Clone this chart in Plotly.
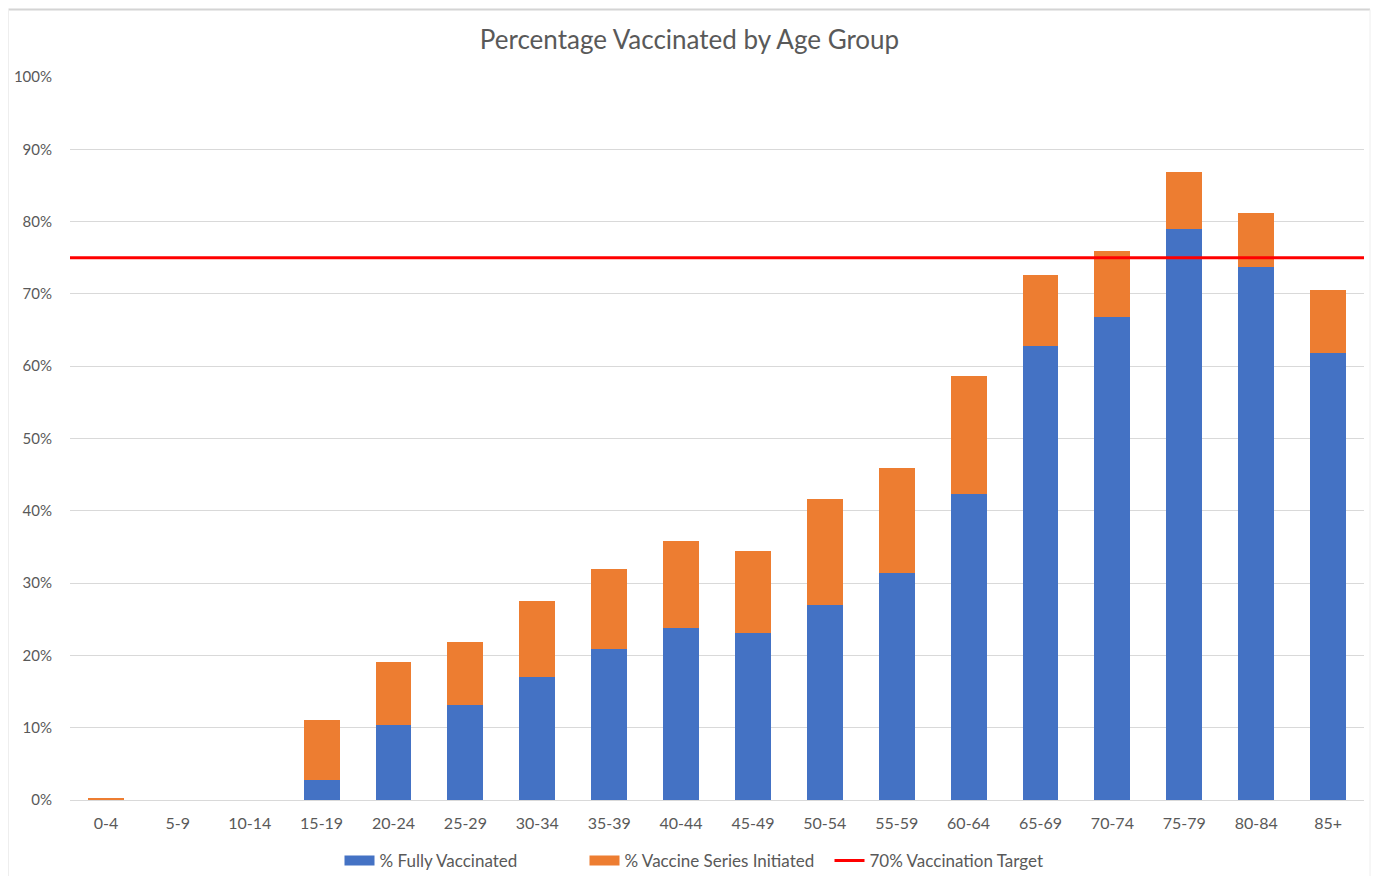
import plotly.graph_objects as go

age_groups = ["0-4", "5-9", "10-14", "15-19", "20-24", "25-29", "30-34", "35-39", "40-44",
              "45-49", "50-54", "55-59", "60-64", "65-69", "70-74", "75-79", "80-84", "85+"]
fully_vaccinated = [0.0, 0.0, 0.0, 2.8, 10.4, 13.1, 17.0, 20.9, 23.8,
                    23.1, 27.0, 31.4, 42.3, 62.8, 66.8, 79.0, 73.7, 61.8]
total_initiated = [0.3, 0.0, 0.0, 11.1, 19.1, 21.9, 27.5, 32.0, 35.8,
                   34.4, 41.6, 45.9, 58.6, 72.6, 75.9, 86.9, 81.2, 70.5]
series_initiated = [round(t - f, 2) for t, f in zip(total_initiated, fully_vaccinated)]
target_value = 75
y_ticks = [0, 10, 20, 30, 40, 50, 60, 70, 80, 90, 100]
y_tick_labels = [f"{v}%" for v in y_ticks]

FONT = "Lato, 'Open Sans', sans-serif"
GREY = "#595959"
BLUE = "#4472C4"
ORANGE = "#ED7D31"

W, H = 1363, 868
L, R, T, B = 62, 7, 69, 76
PW, PH = W - L - R, H - T - B

fig = go.Figure()
fig.add_trace(go.Bar(x=age_groups, y=fully_vaccinated, name="% Fully Vaccinated",
                     marker=dict(color=BLUE, line=dict(width=0)), showlegend=False,
                     legendgroup="full"))
fig.add_trace(go.Bar(x=age_groups, y=series_initiated, name="% Vaccine Series Initiated",
                     marker=dict(color=ORANGE, line=dict(width=0)), showlegend=False,
                     legendgroup="init"))
# legend swatches drawn as wide rectangles (like the original)
fig.add_trace(go.Scatter(x=[None], y=[None], xaxis="x2", mode="lines", name="% Fully Vaccinated",
                         line=dict(color=BLUE, width=10), legendgroup="full"))
fig.add_trace(go.Scatter(x=[None], y=[None], xaxis="x2", mode="lines",
                         name="% Vaccine Series Initiated",
                         line=dict(color=ORANGE, width=10), legendgroup="init"))
fig.add_trace(go.Scatter(x=[0, 1], y=[target_value, target_value], xaxis="x2", mode="lines",
                         name="70% Vaccination Target",
                         line=dict(color="#FF0000", width=3)))

fig.update_layout(
    width=W, height=H,
    barmode="stack", bargap=0.5,
    paper_bgcolor="white", plot_bgcolor="white",
    margin=dict(l=L, r=R, t=T, b=B, autoexpand=False),
    font=dict(family=FONT, color=GREY, size=15),
    title=dict(text="Percentage Vaccinated by Age Group", x=0.5, xanchor="center",
               y=1 - 32 / H, yanchor="middle",
               font=dict(family=FONT, size=26, color=GREY)),
    xaxis=dict(type="category", showgrid=False, showline=True, linecolor="#d9d9d9",
               linewidth=1, ticks="outside", ticklen=9, tickcolor="rgba(0,0,0,0)",
               tickfont=dict(size=16, color=GREY), automargin=False),
    xaxis2=dict(overlaying="x", range=[0, 1], visible=False, fixedrange=True),
    yaxis=dict(range=[0, 100], tickmode="array", tickvals=y_ticks, ticktext=y_tick_labels,
               showgrid=True, gridcolor="#d9d9d9", gridwidth=1, zeroline=False,
               showline=False, ticks="outside", ticklen=14, tickcolor="rgba(0,0,0,0)",
               tickfont=dict(size=15, color=GREY), automargin=False),
    legend=dict(orientation="h", x=0.5 - 10 / PW, xanchor="center", y=-61 / PH,
                yanchor="middle", font=dict(size=17, color=GREY), traceorder="normal",
                bgcolor="rgba(0,0,0,0)", itemwidth=30, entrywidth=200,
                entrywidthmode="pixels"),
)
top_y = 1 + (T - 1.5) / PH
bot_y = -(B + 20) / PH
left_x = -(L - 0.5) / PW
right_x = 1 + (R - 1) / PW
fig.add_shape(type="line", xref="paper", yref="paper", x0=left_x, x1=right_x, y0=top_y, y1=top_y,
              line=dict(color="#d4d4d4", width=2), layer="below")
fig.add_shape(type="line", xref="paper", yref="paper", x0=left_x, x1=left_x, y0=bot_y, y1=top_y,
              line=dict(color="#eeeeee", width=1), layer="below")
fig.add_shape(type="line", xref="paper", yref="paper", x0=right_x, x1=right_x, y0=bot_y, y1=top_y,
              line=dict(color="#eeeeee", width=1), layer="below")

fig.write_html("out.html")
